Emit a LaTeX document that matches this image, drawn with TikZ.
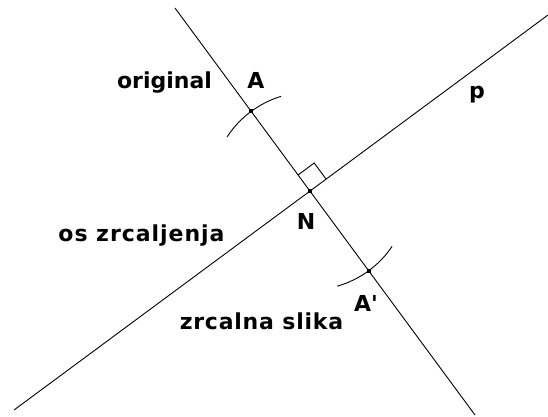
\documentclass[tikz,border=0pt]{standalone}
\usepackage{fontspec}
\setmainfont{DejaVu Sans}
\usetikzlibrary{calc}
\tikzset{
  geo/.style={line width=0.9pt, black},
  lbl/.style={inner sep=0pt, font=\bfseries\fontsize{22}{22}\selectfont},
  dot/.style={fill=black}
}
\begin{document}
\begin{tikzpicture}[x=1pt,y=-1pt]
\useasboundingbox (0,0) rectangle (548,416);
% key points
\coordinate (N) at (310,191);
\coordinate (A) at (251,111);
\coordinate (Ap) at (369,271);
\coordinate (ps) at (14,410);
\coordinate (pe) at (548,15);
\coordinate (qs) at (175,8);
\coordinate (qe) at (475,415);
% lines
\draw[geo] (ps) -- (pe);
\draw[geo] (qs) -- (qe);
% construction arcs centred at N
\draw[geo] ([shift={(213:99)}]N) arc[start angle=213,end angle=253,radius=99];
\draw[geo] ([shift={(34:99)}]N) arc[start angle=34,end angle=74,radius=99];
% right angle mark
\coordinate (ra1) at ($(N)!20pt!(A)$);
\coordinate (ra2) at ($(N)!20pt!(pe)$);
\coordinate (ra3) at ($(ra1)+(ra2)-(N)$);
\draw[geo] (ra1) -- (ra3) -- (ra2);
% points
\foreach \p in {N,A,Ap}{\fill[dot] ([shift={(-2,-2)}]\p) rectangle +(4,4);}
% labels
\node[lbl] (lorig) at (164.5,82.5) {original};
\node[lbl] (lA) at (256,80.5) {A};
\node[lbl] (lp) at (477,95) {p};
\node[lbl] (lN) at (306,221) {N};
\node[lbl] (lAp) at (366,303.5) {A\textquotesingle};
\node[lbl] (los) at (141.5,236) {\addfontfeature{LetterSpace=4.4}os zrcaljenja};
\node[lbl] (lzs) at (261.5,321) {\addfontfeature{LetterSpace=3.5}zrcalna slika};
\end{tikzpicture}
\end{document}
